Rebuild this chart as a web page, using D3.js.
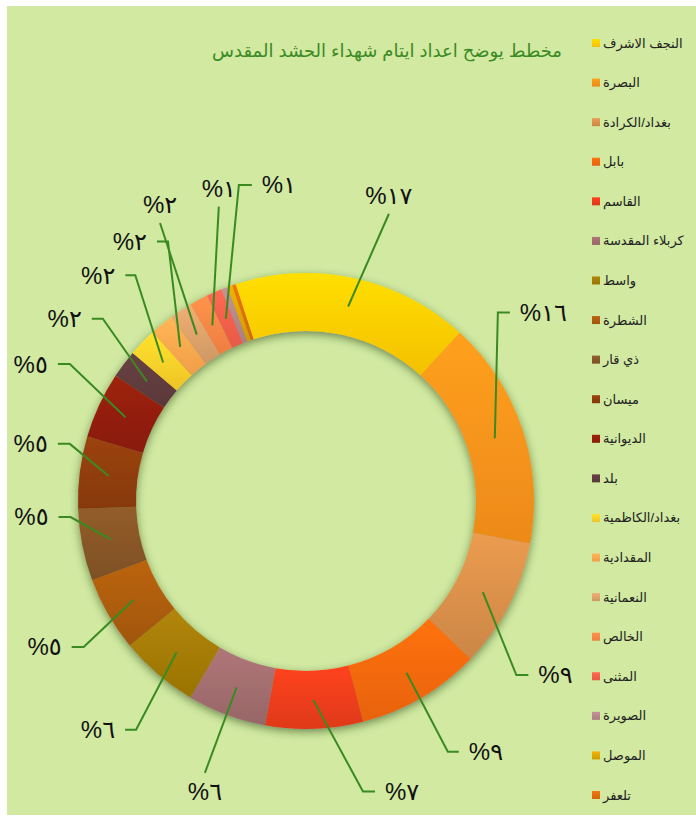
<!DOCTYPE html>
<html>
<head>
<meta charset="utf-8">
<script src="https://cdn.jsdelivr.net/npm/d3@7"></script>
<style>
  html, body { margin: 0; padding: 0; background: #fff; }
  svg { display: block; }
</style>
</head>
<body>
<div id="chart"></div>
<script>
const categories = [
  "النجف الاشرف", "البصرة", "بغداد/الكرادة", "بابل", "القاسم",
  "كربلاء المقدسة", "واسط", "الشطرة", "ذي قار", "ميسان",
  "الديوانية", "بلد", "بغداد/الكاظمية", "المقدادية", "النعمانية",
  "الخالص", "المثنى", "الصويرة", "الموصل", "تلعفر"
];
const values = [16.8, 16.2, 9.2, 8.8, 6.9, 5.6, 5.6, 5.3, 5.1, 5.1,
                4.7, 2.0, 2.0, 1.7, 1.6, 1.3, 1.1, 0.45, 0.35, 0.25];
const colors = [
  "#ffc800", "#f7901a", "#d48c48", "#f2660e", "#e83c1a",
  "#9e6a6c", "#a07806", "#a85a0e", "#845426", "#8c3c0c",
  "#8e1e0a", "#5e3a3c", "#f8cc28", "#fca44c", "#d89e68",
  "#f88444", "#f05e4a", "#b08488", "#d8a200", "#da6a0e"
];
const title = "مخطط يوضح اعداد ايتام شهداء الحشد المقدس";

// label placement: [angle deg, radius, stub length, side]
const labelLayout = [
  [16.1, 299, 0, "up"], [45.5, 269, 12, "right"], [129.6, 273, 12, "right"],
  [150.5, 288, 11, "right"], [168.9, 296, 12, "right"], [200.4, 290, 0, "down"],
  [216.6, 285, 11, "left"], [236.7, 266, 12, "left"], [266.1, 236, 12, "left"],
  [283.6, 243, 12, "left"], [300.1, 273, 12, "left"], [311.9, 273, 11, "left"],
  [322.9, 283, 10, "left"], [332.0, 294, 11, "left"], [332.3, 314, 0, "up"],
  [343.5, 307, 0, "up"], [348.0, 323, 13, "right"], null, null, null
];

const width = 696, height = 816;
const cx = 306, cy = 501;
const outerR = 228, innerR = 170;
const startDeg = -18;
const arabicDigits = n => String(n).replace(/\d/g, c => "٠١٢٣٤٥٦٧٨٩"[+c]);

const svg = d3.select("#chart").append("svg")
  .attr("width", width)
  .attr("height", height);

const defs = svg.append("defs");

const shadow = defs.append("filter")
  .attr("id", "shadow")
  .attr("x", "-20%").attr("y", "-20%")
  .attr("width", "140%").attr("height", "140%");
shadow.append("feDropShadow")
  .attr("dx", 0).attr("dy", 3)
  .attr("stdDeviation", 4)
  .attr("flood-color", "#1f3a08")
  .attr("flood-opacity", 0.55);

colors.forEach((c, i) => {
  const g = defs.append("linearGradient")
    .attr("id", "grad" + i)
    .attr("x1", 0).attr("y1", 0).attr("x2", 0).attr("y2", 1);
  g.append("stop").attr("offset", "0%").attr("stop-color", d3.color(c).brighter(0.3));
  g.append("stop").attr("offset", "100%").attr("stop-color", d3.color(c).darker(0.12));
});

// chart area
svg.append("rect")
  .attr("x", 7).attr("y", 6)
  .attr("width", width - 7).attr("height", height - 7)
  .attr("fill", "#d1e9a1");

svg.append("text")
  .attr("x", 387).attr("y", 57)
  .attr("text-anchor", "middle")
  .attr("font-family", "Liberation Sans, DejaVu Sans, sans-serif")
  .attr("font-size", 18)
  .attr("fill", "#3b8a24")
  .text(title);

const pie = d3.pie()
  .sort(null)
  .value(d => d)
  .startAngle(startDeg * Math.PI / 180)
  .endAngle(startDeg * Math.PI / 180 + 2 * Math.PI);

const arcs = pie(values);
const arc = d3.arc().innerRadius(innerR).outerRadius(outerR);
const midArc = d3.arc().innerRadius((innerR + outerR) / 2).outerRadius((innerR + outerR) / 2);

const donut = svg.append("g")
  .attr("transform", `translate(${cx},${cy})`)
  .attr("filter", "url(#shadow)");

donut.selectAll("path")
  .data(arcs)
  .enter()
  .append("path")
  .attr("d", arc)
  .attr("fill", (d, i) => `url(#grad${i})`);

// data labels with leader lines
const total = d3.sum(values);
const polar = (deg, r) => [r * Math.sin(deg * Math.PI / 180), -r * Math.cos(deg * Math.PI / 180)];
const labels = svg.append("g").attr("transform", `translate(${cx},${cy})`);

arcs.forEach((d, i) => {
  const pct = Math.round(d.value / total * 100);
  const lay = labelLayout[i];
  if (!pct || !lay) return;
  const [ang, r, stub, side] = lay;
  const c = midArc.centroid(d);
  const e = polar(ang, r);
  const pts = [c, e];
  let tx = e[0], ty = e[1], anchor = "middle";
  if (side === "right") {
    pts.push([e[0] + stub, e[1]]);
    tx = e[0] + stub + 10; anchor = "start";
  } else if (side === "left") {
    pts.push([e[0] - stub, e[1]]);
    tx = e[0] - stub - 10; anchor = "end";
  } else if (side === "up") {
    ty = e[1] - 18;
  } else {
    ty = e[1] + 19;
  }
  labels.append("path")
    .attr("d", d3.line()(pts))
    .attr("fill", "none")
    .attr("stroke", "#3a8a22")
    .attr("stroke-width", 2);
  labels.append("text")
    .attr("x", tx).attr("y", ty)
    .attr("dy", "0.35em")
    .attr("text-anchor", anchor)
    .attr("font-family", "Liberation Sans, DejaVu Sans, sans-serif")
    .attr("font-size", 24)
    .attr("fill", "#111")
    .text("%" + arabicDigits(pct));
});

// legend
const legend = svg.append("g");
const ly = d3.scalePoint()
  .domain(categories)
  .range([43, 795]);

categories.forEach((name, i) => {
  legend.append("rect")
    .attr("x", 592).attr("y", ly(name) - 4)
    .attr("width", 8).attr("height", 8)
    .attr("fill", `url(#grad${i})`);
  legend.append("text")
    .attr("x", 603).attr("y", ly(name))
    .attr("dy", "0.35em")
    .attr("text-anchor", "start")
    .attr("font-family", "Liberation Sans, DejaVu Sans, sans-serif")
    .attr("font-size", 13)
    .attr("fill", "#222")
    .text(name);
});
</script>
</body>
</html>
